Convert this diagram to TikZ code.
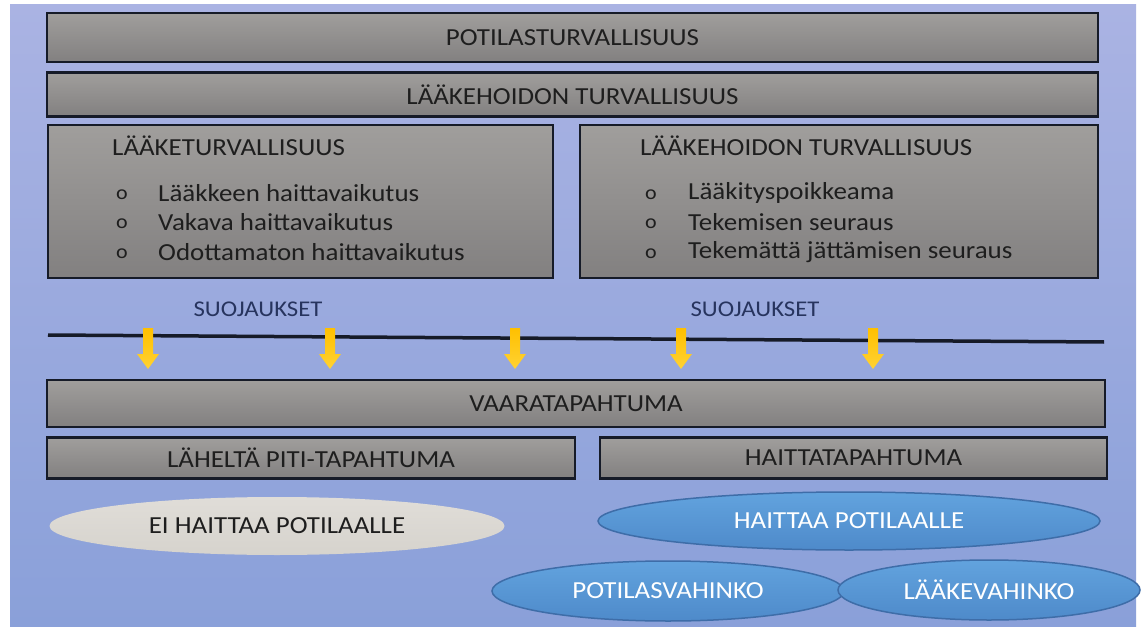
\documentclass[tikz,border=0pt]{standalone}
\usepackage{fontspec}
\setmainfont{Carlito}[FakeStretch=1.1]
\usetikzlibrary{shapes.geometric}
\definecolor{bgtop}{HTML}{AAB3E3}
\definecolor{bgbot}{HTML}{8AA0D9}
\definecolor{boxtop}{HTML}{A09E9C}
\definecolor{boxbot}{HTML}{828080}
\definecolor{boxline}{HTML}{161B28}
\definecolor{txtdark}{HTML}{1E1E1E}
\definecolor{navytxt}{HTML}{27345E}
\definecolor{arrtop}{HTML}{FFC000}
\definecolor{arrbot}{HTML}{FFD233}
\definecolor{greyell}{HTML}{D6D3CD}
\definecolor{greyelltop}{HTML}{E0DDD8}
\definecolor{bluetop}{HTML}{62A3DE}
\definecolor{bluebot}{HTML}{4E8ACA}
\definecolor{blueline}{HTML}{3E6DA8}
\tikzset{
  graybox/.style={rectangle, shade, top color=boxtop, bottom color=boxbot,
    draw=boxline, line width=2.5pt, inner sep=0pt, text=txtdark,
    font=\fontsize{24.5}{28}\selectfont},
  boxtext/.style={anchor=west, inner sep=0pt, text=txtdark,
    font=\fontsize{24.5}{28}\selectfont},
  bullet/.style={anchor=center, inner sep=0pt, text=txtdark,
    font=\fontsize{20}{22}\selectfont},
  guardlabel/.style={inner sep=0pt, text=navytxt,
    font=\fontsize{22.5}{26}\selectfont},
  greyoval/.style={ellipse, shade, top color=greyelltop, bottom color=greyell,
    inner sep=0pt, text=txtdark, font=\fontsize{24.5}{28}\selectfont},
  blueoval/.style={ellipse, shade, top color=bluetop, bottom color=bluebot,
    draw=blueline, line width=1.5pt, inner sep=0pt, text=white,
    font=\fontsize{24.5}{28}\selectfont},
}
\newcommand{\guardarrow}[1]{%
  \shade[top color=arrtop, bottom color=arrbot]
    (#1-5,328) -- (#1+5,328) -- (#1+5,354) -- (#1+11,354) -- (#1,369)
    -- (#1-11,354) -- (#1-5,354) -- cycle;}
\begin{document}
\begin{tikzpicture}[x=1pt,y=-1pt]
\useasboundingbox (0,0) rectangle (1142,628);
\fill[white] (0,0) rectangle (1142,628);
% backdrop panel
\shade[top color=bgtop, bottom color=bgbot] (10,5) rectangle (1136,626);

% top bars
\node[graybox, minimum width=1051pt, minimum height=49pt] (patient) at (572.5,37.5) {POTILASTURVALLISUUS};
\node[graybox, minimum width=1051pt, minimum height=44pt] (medcare) at (572.5,94.5) {LÄÄKEHOIDON TURVALLISUUS};

% two detail boxes
\node[graybox, minimum width=505pt, minimum height=153pt] (drugbox) at (300.5,201.5) {};
\node[graybox, minimum width=518pt, minimum height=153pt] (carebox) at (839,201.5) {};

\node[boxtext] (drugtitle) at (112,146) {LÄÄKETURVALLISUUS};
\node[bullet] (db1) at (122,195) {o};
\node[bullet] (db2) at (122,224) {o};
\node[bullet] (db3) at (122,254) {o};
\node[boxtext] (di1) at (158,193) {Lääkkeen haittavaikutus};
\node[boxtext] (di2) at (158,222) {Vakava haittavaikutus};
\node[boxtext] (di3) at (158,252) {Odottamaton haittavaikutus};

\node[boxtext] (caretitle) at (640,146) {LÄÄKEHOIDON TURVALLISUUS};
\node[bullet] (cb1) at (651,195) {o};
\node[bullet] (cb2) at (651,224) {o};
\node[bullet] (cb3) at (651,254) {o};
\node[boxtext] (ci1) at (688,193) {Lääkityspoikkeama};
\node[boxtext] (ci2) at (688,222) {Tekemisen seuraus};
\node[boxtext] (ci3) at (688,252) {Tekemättä jättämisen seuraus};

% safeguards line with arrows
\node[guardlabel] (guardL) at (258,309) {SUOJAUKSET};
\node[guardlabel] (guardR) at (755,309) {SUOJAUKSET};
\coordinate (lineA) at (48,335);
\coordinate (lineB) at (1104,342);
\draw[line width=3.5pt, color=boxline] (lineA) -- (lineB);
\foreach \ax in {148,330,515,681,873} {\guardarrow{\ax}}

% events
\node[graybox, minimum width=1058pt, minimum height=47pt] (hazard) at (576,403.5) {VAARATAPAHTUMA};
\node[graybox, minimum width=528pt, minimum height=41pt] (nearmiss) at (311,458) {LÄHELTÄ PITI-TAPAHTUMA};
\node[graybox, minimum width=507pt, minimum height=41pt] (adverse) at (853.5,458) {HAITTATAPAHTUMA};

% outcomes
\node[greyoval, minimum width=455pt, minimum height=58pt] (noharm) at (277,526) {EI HAITTAA POTILAALLE};
\node[blueoval, minimum width=502pt, minimum height=58pt] (harm) at (849,521) {HAITTAA POTILAALLE};
\node[blueoval, minimum width=352pt, minimum height=60pt] (patinj) at (668,591) {POTILASVAHINKO};
\node[blueoval, minimum width=302pt, minimum height=60pt] (druginj) at (989,590) {LÄÄKEVAHINKO};
\end{tikzpicture}
\end{document}
